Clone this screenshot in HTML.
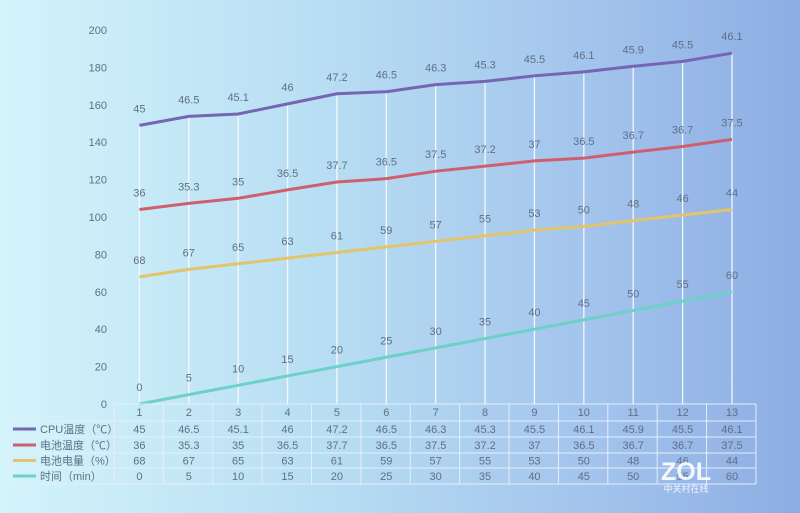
<!DOCTYPE html>
<html><head><meta charset="utf-8"><style>
html,body{margin:0;padding:0;width:800px;height:513px;overflow:hidden}
body{background:linear-gradient(90deg,#d3f4fb 0%,#b8def3 40%,#a2c3ec 75%,#8cadE3 100%)}
svg{position:absolute;left:0;top:0;font-family:"Liberation Sans","Noto Sans CJK SC",sans-serif}
</style></head><body>
<svg id="s" width="800" height="513" xmlns="http://www.w3.org/2000/svg"></svg>
<script>
const cpu=[45,46.5,45.1,46,47.2,46.5,46.3,45.3,45.5,46.1,45.9,45.5,46.1];
const bt=[36,35.3,35,36.5,37.7,36.5,37.5,37.2,37,36.5,36.7,36.7,37.5];
const bp=[68,67,65,63,61,59,57,55,53,50,48,46,44];
const tm=[0,5,10,15,20,25,30,35,40,45,50,55,60];
const X=i=>139.4+i*49.38, Y=v=>404-v*1.87;
const s1=tm, s2=tm.map((v,i)=>v+bp[i]), s3=s2.map((v,i)=>v+bt[i]), s4=s3.map((v,i)=>v+cpu[i]);
let h='';
const tc='#5f6f86';
for(let v=0;v<=200;v+=20) h+=`<text x="107" y="${Y(v)+4}" text-anchor="end" font-size="11" fill="${tc}">${v}</text>`;
for(let i=0;i<13;i++) h+=`<line x1="${X(i)}" y1="${Y(s4[i])}" x2="${X(i)}" y2="404" stroke="#f4f8fc" stroke-width="1.3"/>`;
const ser=[[s1,tm,'#6fd0c8'],[s2,bp,'#e2c56a'],[s3,bt,'#cf5f6e'],[s4,cpu,'#7565b3']];
for(const [s,d,c] of ser){
 h+=`<polyline fill="none" stroke="${c}" stroke-width="3" points="${s.map((v,i)=>X(i)+','+Y(v)).join(' ')}"/>`;
 s.forEach((v,i)=>h+=`<text x="${X(i)}" y="${Y(v)-13}" text-anchor="middle" font-size="11" fill="${tc}">${d[i]}</text>`);
}
// table
const L=114,R=756,rows=[404,421,437,453,468,484];
const gc='#e6eef8';
h+=`<line x1="${L}" y1="404" x2="${R}" y2="404" stroke="${gc}"/>`;
for(let r=1;r<6;r++) h+=`<line x1="9" y1="${rows[r]}" x2="${R}" y2="${rows[r]}" stroke="${gc}"/>`;
h+=`<line x1="9" y1="421" x2="9" y2="484" stroke="${gc}"/>`;
for(let i=0;i<=13;i++){const x=L+i*49.38;h+=`<line x1="${x}" y1="404" x2="${x}" y2="484" stroke="${gc}"/>`;}
for(let i=0;i<13;i++) h+=`<text x="${X(i)}" y="${416}" text-anchor="middle" font-size="11" fill="${tc}">${i+1}</text>`;
const names=['CPU温度（℃）','电池温度（℃）','电池电量（%）','时间（min）'];
const cols=['#7565b3','#cf5f6e','#e2c56a','#6fd0c8'];const datas=[cpu,bt,bp,tm];
for(let r=0;r<4;r++){const yc=(rows[r+1]+rows[r+2])/2;
 h+=`<line x1="13" y1="${yc}" x2="36" y2="${yc}" stroke="${cols[r]}" stroke-width="3"/>`;
 h+=`<text x="40" y="${yc+4}" font-size="11" fill="${tc}">${names[r]}</text>`;
 datas[r].forEach((v,i)=>h+=`<text x="${X(i)}" y="${yc+4}" text-anchor="middle" font-size="11" fill="${tc}">${v}</text>`);}
h+=`<text x="686" y="480" text-anchor="middle" font-size="25" font-weight="bold" fill="#ffffff" opacity="0.9">ZOL</text>`;
h+=`<text x="686" y="492" text-anchor="middle" font-size="9" fill="#ffffff" opacity="0.9">中关村在线</text>`;
document.getElementById('s').innerHTML=h;
</script>
</body></html>
